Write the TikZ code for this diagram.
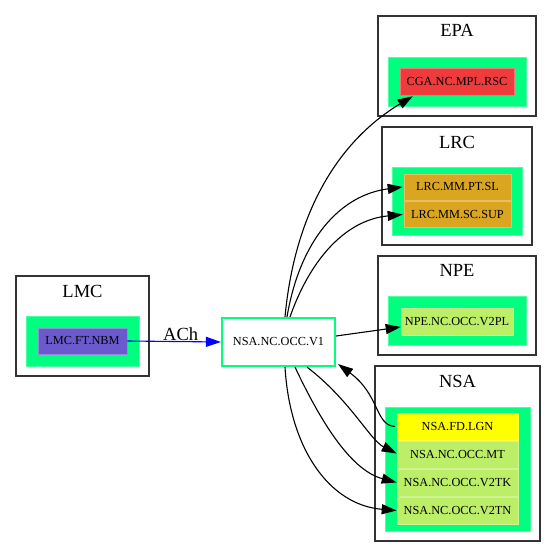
\documentclass[tikz,border=0pt]{standalone}
\usepackage{fontspec}
\setmainfont{Liberation Serif}
\usetikzlibrary{arrows.meta,calc}
\definecolor{sgreen}{HTML}{00FF7F}
\definecolor{sblue}{HTML}{6A5ACD}
\definecolor{rred}{HTML}{EE3B3B}
\definecolor{gold}{HTML}{DAA520}
\definecolor{lgreen}{HTML}{BCEE68}
\definecolor{yell}{HTML}{FFFF00}
\definecolor{cborder}{HTML}{333333}
\begin{document}
\begin{tikzpicture}[x=1pt,y=-1pt,
  cluster/.style={draw=cborder,line width=1.2pt,rectangle,inner sep=0pt},
  inner/.style={fill=sgreen,draw=sgreen!70!white,line width=0.6pt,rectangle,inner sep=0pt},
  leaf/.style={rectangle,inner sep=0pt,line width=0.6pt,font=\fontsize{12.3}{14}\selectfont},
  title/.style={font=\fontsize{18.5}{20}\selectfont,inner sep=0pt},
  edge/.style={line width=1.1pt,-{Triangle[length=15pt,width=10pt]}},
  blueedge/.style={edge,draw=blue,-{Triangle[length=15pt,width=10pt,fill=blue]}}]
\useasboundingbox (0,0) rectangle (556,557);
% LMC
\node[cluster,minimum width=133,minimum height=100] (LMC) at (82.5,326) {};
\node[title] (LMCt) at (82.5,291) {LMC};
\node[inner,minimum width=113,minimum height=50] (LMCg) at (82.5,341) {};
\node[leaf,fill=sblue,draw=sblue!70!white,minimum width=89,minimum height=26] (NBM) at (82.5,341) {LMC.FT.NBM};
% V1
\node[leaf,draw=sgreen,line width=2.2pt,fill=white,minimum width=113,minimum height=48] (V1) at (278.5,342) {NSA.NC.OCC.V1};
% EPA
\node[cluster,minimum width=158,minimum height=100] (EPA) at (457,66) {};
\node[title] (EPAt) at (457,30) {EPA};
\node[inner,minimum width=138,minimum height=49] (EPAg) at (457,81.5) {};
\node[leaf,fill=rred,draw=rred!70!white,minimum width=114,minimum height=27] (CGA) at (457,81.5) {CGA.NC.MPL.RSC};
% LRC
\node[cluster,minimum width=150,minimum height=118] (LRC) at (457,186) {};
\node[title] (LRCt) at (457,142) {LRC};
\node[inner,minimum width=130,minimum height=68] (LRCg) at (457,201) {};
\node[leaf,fill=gold,draw=gold!70!white,minimum width=107,minimum height=26] (PTSL) at (457.5,187) {LRC.MM.PT.SL};
\node[leaf,fill=gold,draw=gold!70!white,minimum width=107,minimum height=26] (SCSUP) at (457.5,214.5) {LRC.MM.SC.SUP};
% NPE
\node[cluster,minimum width=158,minimum height=99] (NPE) at (457,305.5) {};
\node[title] (NPEt) at (457,270) {NPE};
\node[inner,minimum width=138,minimum height=49] (NPEg) at (457,320.5) {};
\node[leaf,fill=lgreen,draw=lgreen!70!white,minimum width=112,minimum height=27] (V2PL) at (457,321.5) {NPE.NC.OCC.V2PL};
% NSA
\node[cluster,minimum width=165,minimum height=175] (NSA) at (457.5,453.5) {};
\node[title] (NSAt) at (457.5,381) {NSA};
\node[inner,minimum width=145,minimum height=124] (NSAg) at (457.5,469) {};
\node[leaf,fill=yell,draw=yell!70!white,minimum width=121,minimum height=27] (LGN) at (457.5,426.5) {NSA.FD.LGN};
\node[leaf,fill=lgreen,draw=lgreen!70!white,minimum width=121,minimum height=27] (MT) at (457.5,454.5) {NSA.NC.OCC.MT};
\node[leaf,fill=lgreen,draw=lgreen!70!white,minimum width=121,minimum height=27] (V2TK) at (457.5,482.5) {NSA.NC.OCC.V2TK};
\node[leaf,fill=lgreen,draw=lgreen!70!white,minimum width=121,minimum height=27] (V2TN) at (457.5,510.5) {NSA.NC.OCC.V2TN};
% edges
\draw[blueedge] (NBM.east) -- node[pos=0.57,above=-1pt,font=\fontsize{18.5}{20}\selectfont,inner sep=1pt] {ACh} (V1.west);
\draw[edge] ($(V1.north)+(6.5,0)$) .. controls (295,210) and (340,140) .. ($(CGA.south west)+(13,1)$);
\draw[edge] ($(V1.north)+(8.5,0)$) .. controls (300,240) and (340,195) .. ($(PTSL.west)+(-1,0)$);
\draw[edge] ($(V1.north)+(11.5,0)$) .. controls (310,260) and (345,220) .. ($(SCSUP.west)+(-1,0)$);
\draw[edge] ($(V1.east)+(0,-6)$) -- ($(V2PL.west)+(0,5.5)$);
\draw[edge] ($(LGN.west)+(-2,0)$) .. controls (375,425) and (380,395) .. ($(V1.south east)+(2,-3)$);
\draw[edge] ($(V1.south)+(28.5,0)$) .. controls (350,400) and (370,440) .. ($(MT.west)+(0,-1)$);
\draw[edge] ($(V1.south)+(16.5,0)$) .. controls (320,420) and (350,470) .. (V2TK.west);
\draw[edge] ($(V1.south)+(6.5,0)$) .. controls (290,450) and (330,505) .. (V2TN.west);
\end{tikzpicture}
\end{document}
